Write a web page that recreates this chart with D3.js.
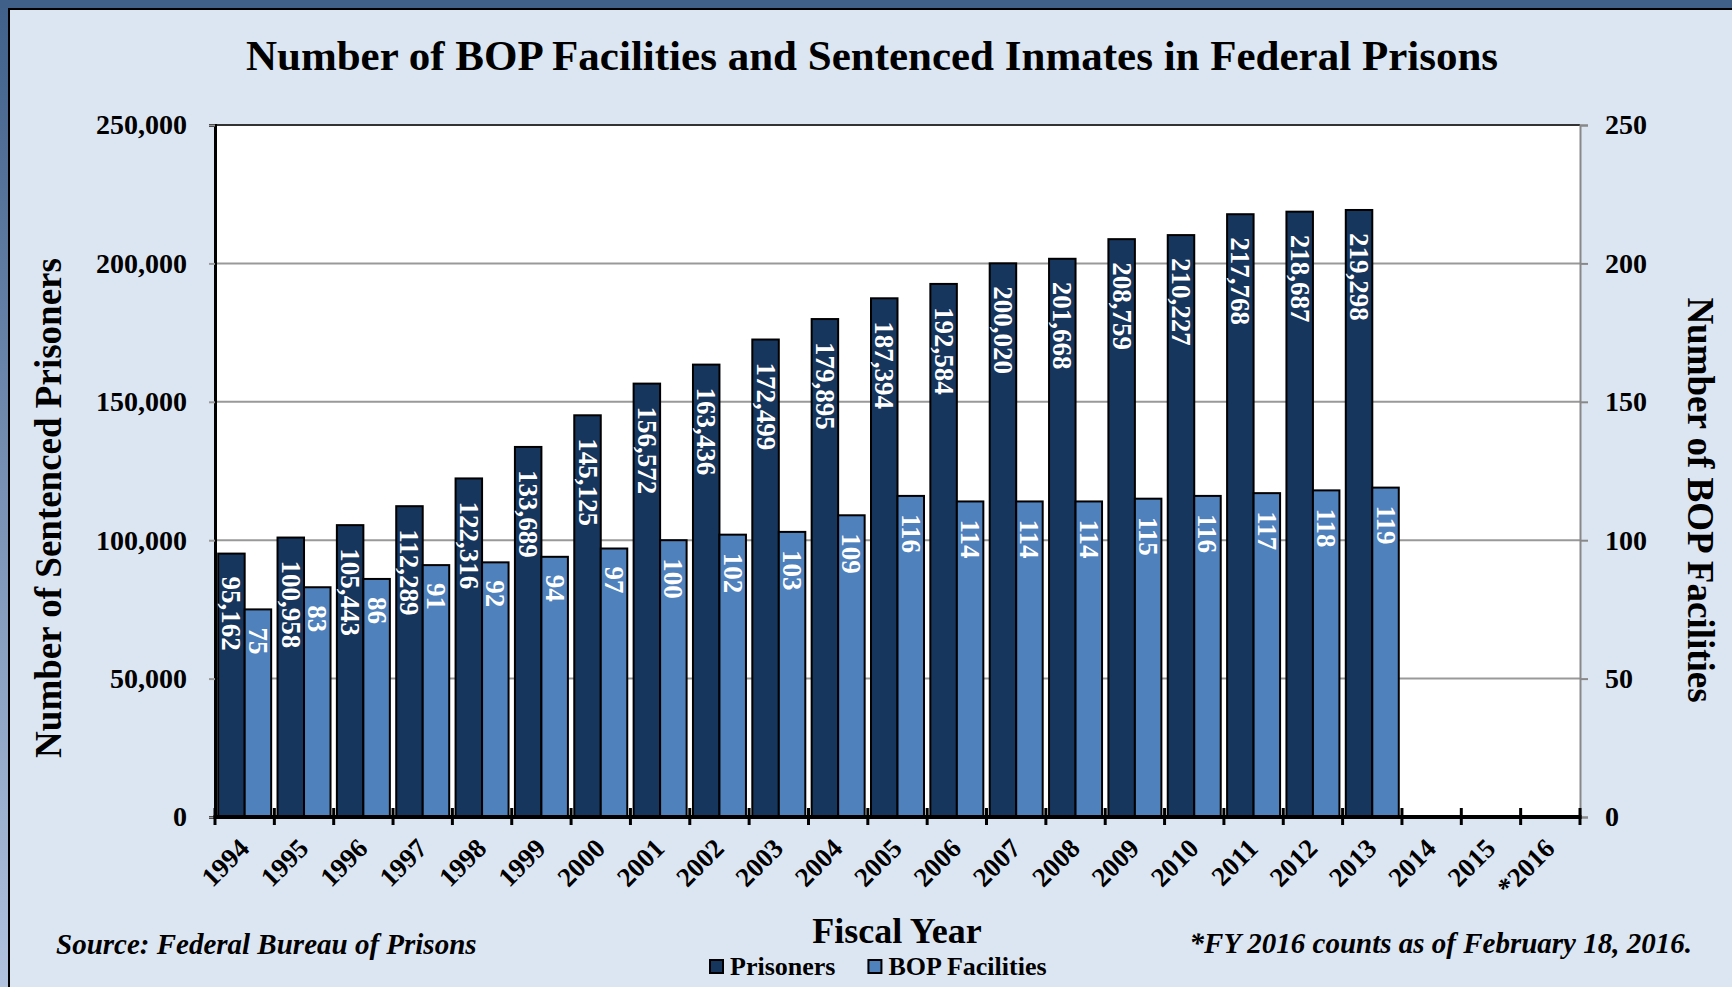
<!DOCTYPE html>
<html>
<head>
<meta charset="utf-8">
<script src="https://cdn.jsdelivr.net/npm/d3@7"></script>
<style>
  html, body { margin: 0; padding: 0; background: #dce6f2; }
  svg { display: block; }
  text { font-family: "Liberation Serif", "Times New Roman", serif; }
</style>
</head>
<body>
<div id="chart"></div>
<script>
// fiscal years on the axis (last three have no bars)
const years = ["1994", "1995", "1996", "1997", "1998", "1999", "2000", "2001", "2002", "2003",
  "2004", "2005", "2006", "2007", "2008", "2009", "2010", "2011", "2012", "2013",
  "2014", "2015", "*2016"];

const prisoners = [95162, 100958, 105443, 112289, 122316, 133689, 145125, 156572, 163436, 172499,
  179895, 187394, 192584, 200020, 201668, 208759, 210227, 217768, 218687, 219298];

const facilities = [75, 83, 86, 91, 92, 94, 97, 100, 102, 103,
  109, 116, 114, 114, 114, 115, 116, 117, 118, 119];

const leftTicks = [0, 50000, 100000, 150000, 200000, 250000];
const rightTicks = [0, 50, 100, 150, 200, 250];
const seriesNames = ["Prisoners", "BOP Facilities"];
const seriesColors = ["#17365d", "#4f81bd"];

const width = 1732, height = 987;
const plot = { left: 215, right: 1580, top: 125, bottom: 817 };

const svg = d3.select("#chart").append("svg")
  .attr("width", width)
  .attr("height", height);

// background + frame
svg.append("rect").attr("width", width).attr("height", height).attr("fill", "#dce6f2");

const grad = svg.append("defs").append("linearGradient")
  .attr("id", "sideGrad").attr("x1", 0).attr("y1", 0).attr("x2", 0).attr("y2", 1);
grad.append("stop").attr("offset", "0%").attr("stop-color", "#40608a");
grad.append("stop").attr("offset", "100%").attr("stop-color", "#b0c2de");

svg.append("rect").attr("x", 0).attr("y", 0).attr("width", 8).attr("height", height).attr("fill", "url(#sideGrad)");
svg.append("rect").attr("x", 0).attr("y", 0).attr("width", width).attr("height", 8).attr("fill", "#40608a");
svg.append("line").attr("x1", 8).attr("x2", width).attr("y1", 9).attr("y2", 9).attr("stroke", "#000").attr("stroke-width", 2);
svg.append("line").attr("x1", 9).attr("x2", 9).attr("y1", 8).attr("y2", height).attr("stroke", "#000").attr("stroke-width", 2);

// scales
const x0 = d3.scaleBand().domain(years).range([plot.left, plot.right]).padding(0);
const x1 = d3.scaleBand().domain(seriesNames).range([0, x0.bandwidth()]).paddingInner(0).paddingOuter(0.12);
const yL = d3.scaleLinear().domain([0, 250000]).range([plot.bottom, plot.top]);
const yR = d3.scaleLinear().domain([0, 250]).range([plot.bottom, plot.top]);

// plot area
svg.append("rect")
  .attr("x", plot.left).attr("y", plot.top)
  .attr("width", plot.right - plot.left).attr("height", plot.bottom - plot.top)
  .attr("fill", "#fff");

// gridlines
svg.append("g").selectAll("line")
  .data(leftTicks.filter(d => d > 0 && d < 250000))
  .join("line")
  .attr("x1", plot.left).attr("x2", plot.right)
  .attr("y1", d => yL(d)).attr("y2", d => yL(d))
  .attr("stroke", "#999").attr("stroke-width", 2);

// top border of plot
svg.append("line")
  .attr("x1", plot.left).attr("x2", plot.right)
  .attr("y1", plot.top).attr("y2", plot.top)
  .attr("stroke", "#333").attr("stroke-width", 2);

// bars
const rows = prisoners.map((p, i) => ({ year: years[i], values: [p, facilities[i]] }));
const groups = svg.append("g").selectAll("g")
  .data(rows)
  .join("g")
  .attr("transform", d => `translate(${x0(d.year)},0)`);

groups.selectAll("rect")
  .data(d => d.values.map((v, k) => ({ k, v })))
  .join("rect")
  .attr("x", d => x1(seriesNames[d.k]))
  .attr("width", x1.bandwidth())
  .attr("y", d => d.k === 0 ? yL(d.v) : yR(d.v))
  .attr("height", d => plot.bottom - (d.k === 0 ? yL(d.v) : yR(d.v)))
  .attr("fill", d => seriesColors[d.k])
  .attr("stroke", "#000")
  .attr("stroke-width", 2);

// data labels, rotated, inside end
groups.selectAll("text")
  .data(d => d.values.map((v, k) => ({ k, v })))
  .join("text")
  .attr("transform", d => {
    const cx = x1(seriesNames[d.k]) + x1.bandwidth() / 2;
    const top = d.k === 0 ? yL(d.v) + 23 : yR(d.v) + 18;
    return `translate(${cx},${top}) rotate(90)`;
  })
  .attr("dominant-baseline", "central")
  .attr("fill", "#fff")
  .attr("font-size", 27)
  .attr("font-weight", "bold")
  .text(d => d3.format(",")(d.v));

// left axis
const axL = svg.append("g")
  .attr("transform", `translate(${plot.left},0)`)
  .call(d3.axisLeft(yL).tickValues(leftTicks).tickFormat(d3.format(",")).tickSize(6).tickPadding(22));
axL.select(".domain").attr("stroke", "#000").attr("stroke-width", 3);
axL.selectAll(".tick line").attr("stroke", "#999").attr("stroke-width", 2);
axL.selectAll(".tick text").attr("font-size", 28).attr("font-weight", "bold").attr("fill", "#000")
  .style("font-family", "'Liberation Serif', 'Times New Roman', serif");

// right axis
const axR = svg.append("g")
  .attr("transform", `translate(${plot.right},0)`)
  .call(d3.axisRight(yR).tickValues(rightTicks).tickSize(8).tickPadding(17));
axR.select(".domain").attr("stroke", "#888").attr("stroke-width", 2);
axR.selectAll(".tick line").attr("stroke", "#888").attr("stroke-width", 2);
axR.selectAll(".tick text").attr("font-size", 28).attr("font-weight", "bold").attr("fill", "#000")
  .style("font-family", "'Liberation Serif', 'Times New Roman', serif");

// bottom axis: labels at category centres
const axB = svg.append("g")
  .attr("transform", `translate(0,${plot.bottom})`)
  .call(d3.axisBottom(x0).tickSize(0));
axB.select(".domain").remove();
axB.selectAll(".tick text")
  .attr("y", 0).attr("dy", null)
  .attr("text-anchor", "end")
  .attr("transform", "translate(6,33) rotate(-45)")
  .attr("font-size", 27).attr("font-weight", "bold").attr("fill", "#000")
  .style("font-family", "'Liberation Serif', 'Times New Roman', serif");

// category boundary ticks and axis line
const bounds = years.map(y => x0(y)).concat([plot.right]);
svg.append("g").selectAll("line")
  .data(bounds)
  .join("line")
  .attr("x1", d => d).attr("x2", d => d)
  .attr("y1", plot.bottom - 9).attr("y2", plot.bottom + 8)
  .attr("stroke", "#000").attr("stroke-width", 3);
svg.append("line")
  .attr("x1", plot.left - 1.5).attr("x2", plot.right + 1.5)
  .attr("y1", plot.bottom).attr("y2", plot.bottom)
  .attr("stroke", "#000").attr("stroke-width", 4);

// titles
svg.append("text")
  .attr("x", 872).attr("y", 70)
  .attr("text-anchor", "middle")
  .attr("font-size", 43).attr("font-weight", "bold")
  .text("Number of BOP Facilities and Sentenced Inmates in Federal Prisons");

svg.append("text")
  .attr("transform", "translate(48,508) rotate(-90)")
  .attr("text-anchor", "middle").attr("dominant-baseline", "central")
  .attr("font-size", 37).attr("font-weight", "bold")
  .text("Number of Sentenced Prisoners");

svg.append("text")
  .attr("transform", "translate(1700,500) rotate(90)")
  .attr("text-anchor", "middle").attr("dominant-baseline", "central")
  .attr("font-size", 37).attr("font-weight", "bold")
  .text("Number of BOP Facilities");

svg.append("text")
  .attr("x", 897).attr("y", 943)
  .attr("text-anchor", "middle")
  .attr("font-size", 36).attr("font-weight", "bold")
  .text("Fiscal Year");

svg.append("text")
  .attr("x", 56).attr("y", 954)
  .attr("font-size", 29).attr("font-weight", "bold").attr("font-style", "italic")
  .text("Source: Federal Bureau of Prisons");

svg.append("text")
  .attr("x", 1692).attr("y", 953)
  .attr("text-anchor", "end")
  .attr("font-size", 29).attr("font-weight", "bold").attr("font-style", "italic")
  .text("*FY 2016 counts as of February 18, 2016.");

// legend
const legend = svg.append("g").attr("transform", "translate(709,975)");
let lx = 0;
seriesNames.forEach((name, i) => {
  const item = legend.append("g").attr("transform", `translate(${lx},0)`);
  item.append("rect")
    .attr("x", 1).attr("y", -15).attr("width", 13).attr("height", 13)
    .attr("fill", seriesColors[i]).attr("stroke", "#000").attr("stroke-width", 2);
  const t = item.append("text")
    .attr("x", 21).attr("y", 0)
    .attr("font-size", 26).attr("font-weight", "bold")
    .text(name);
  lx += 21 + t.node().getComputedTextLength() + 32;
});
</script>
</body>
</html>
